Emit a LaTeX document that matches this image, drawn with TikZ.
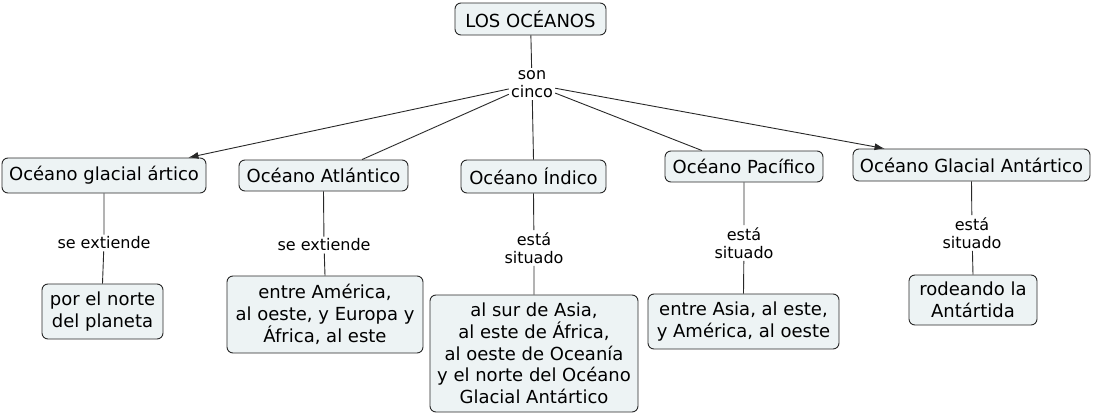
\documentclass[tikz,border=0pt]{standalone}
\usepackage{fontspec}
\setmainfont{DejaVu Sans}
\usetikzlibrary{arrows.meta,calc}
\definecolor{boxfill}{RGB}{237,243,244}
\definecolor{edge}{RGB}{40,40,40}
\begin{document}
\begin{tikzpicture}[x=1pt,y=-1pt,
  concept/.style={draw=edge,fill=boxfill,rounded corners=6pt,line width=0.9pt,align=center,
    inner sep=0pt,font=\fontsize{18}{21.7}\selectfont},
  lbl/.style={align=center,inner sep=2pt,font=\fontsize{16}{18.5}\selectfont},
  link/.style={draw=edge,line width=0.9pt},
  arr/.style={link,-{Latex[length=10pt,width=7pt]}}]
\useasboundingbox (0,0) rectangle (1093,415);
% concepts
\node[concept,minimum width=151,minimum height=32] (title) at (530.5,19) {LOS OCÉANOS};
\node[concept,minimum width=204,minimum height=35] (artico) at (104,175.5) {Océano glacial ártico};
\node[concept,minimum width=169,minimum height=31] (atlantico) at (323.5,175.5) {Océano Atlántico};
\node[concept,minimum width=145,minimum height=33] (indico) at (533.5,176.5) {Océano Índico};
\node[concept,minimum width=158,minimum height=31] (pacifico) at (744,166.5) {Océano Pacífico};
\node[concept,minimum width=237,minimum height=32] (antartico) at (971.5,165) {Océano Glacial Antártico};
\node[concept,minimum width=121,minimum height=55] (norte) at (102.5,311.5) {por el norte\\del planeta};
\node[concept,minimum width=196,minimum height=77] (america) at (325,314.5) {entre América,\\al oeste, y Europa y\\África, al este};
\node[concept,minimum width=208,minimum height=117] (asia) at (534,353.5) {al sur de Asia,\\al este de África,\\al oeste de Oceanía\\y el norte del Océano\\Glacial Antártico};
\node[concept,minimum width=191,minimum height=55] (asiaeste) at (743.5,321.5) {entre Asia, al este,\\y América, al oeste};
\node[concept,minimum width=128,minimum height=50] (rodeando) at (973,300) {rodeando la\\Antártida};
% linking phrases
\node[lbl] (son) at (532,84) {son\\cinco};
\node[lbl] (ext1) at (104,243) {se extiende};
\node[lbl] (ext2) at (324,245) {se extiende};
\node[lbl] (sit3) at (534,248) {está\\situado};
\node[lbl] (sit4) at (744,243) {está\\situado};
\node[lbl] (sit5) at (972,233) {está\\situado};
% connectors
\draw[link] (title) -- (son);
\draw[arr] (son) -- ($(artico.north east)+(-18,0)$);
\draw[link] (son) -- ($(atlantico.north)+(38.5,0)$);
\draw[link] (son) -- (indico.north);
\draw[link] (son) -- ($(pacifico.north)+(-42,0)$);
\draw[arr] (son) -- ($(antartico.north west)+(32,0)$);
\draw[link] (artico.south) -- (ext1) -- (norte.north);
\draw[link] (atlantico.south) -- (ext2) -- (america.north);
\draw[link] (indico.south) -- (sit3) -- (asia.north);
\draw[link] (pacifico.south) -- (sit4) -- (asiaeste.north);
\draw[link] (antartico.south) -- (sit5) -- (rodeando.north);
\end{tikzpicture}
\end{document}
